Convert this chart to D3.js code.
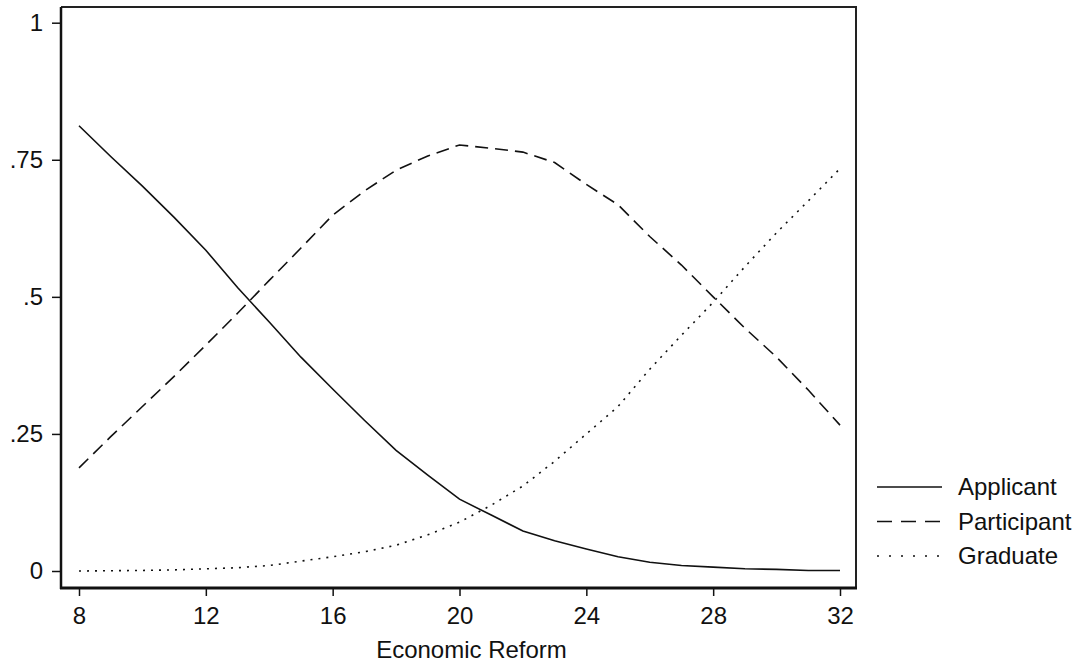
<!DOCTYPE html>
<html>
<head>
<meta charset="utf-8">
<script src="https://cdn.jsdelivr.net/npm/d3@7"></script>
<style>
    body { margin: 0; background: #fff; }
    svg { display: block; }
    text { font-family: Arial, "Liberation Sans", sans-serif; fill: #111; }
</style>
</head>
<body>
<svg id="vis" width="1088" height="664"></svg>
<script>
/**
 * Data
 */
var reform = [8, 9, 10, 11, 12, 13, 14, 15, 16, 17, 18, 19, 20,
              21, 22, 23, 24, 25, 26, 27, 28, 29, 30, 31, 32];
var applicant = [0.812, 0.756, 0.702, 0.645, 0.585, 0.517, 0.454, 0.39, 0.332, 0.275, 0.220, 0.175, 0.131,
                 0.102, 0.073, 0.055, 0.040, 0.026, 0.016, 0.010, 0.007, 0.004, 0.003, 0.001, 0.001];
var participant = [0.188, 0.245, 0.300, 0.355, 0.412, 0.47, 0.530, 0.589, 0.649, 0.693, 0.731, 0.757, 0.777,
                   0.771, 0.764, 0.745, 0.705, 0.668, 0.610, 0.558, 0.500, 0.443, 0.390, 0.330, 0.266];
var graduate = [0.000, 0.0005, 0.001, 0.002, 0.004, 0.006, 0.010, 0.018, 0.026, 0.035, 0.047, 0.066, 0.089,
                0.120, 0.155, 0.200, 0.250, 0.300, 0.368, 0.430, 0.490, 0.555, 0.617, 0.675, 0.734];
var seriesNames = ["Applicant", "Participant", "Graduate"];
var xTicks = [8, 12, 16, 20, 24, 28, 32];
var yTicks = [0, 0.25, 0.5, 0.75, 1];
var yTickLabels = ["0", ".25", ".5", ".75", "1"];
var xTitle = "Economic Reform";

// plot frame in pixels
const FRAME = { left: 61, right: 856, top: 7, bottom: 588 };
const dashes = ["none", "13,7", "2,6"];
const legendDashes = ["none", "15,9", "2,10"];

window.onload = function(){
    draw();
};

function draw(){
    var svg = d3.select("#vis");

    var x = d3.scaleLinear().domain([8, 32]).range([79, 840]);
    var y = d3.scaleLinear().domain([0, 1]).range([571, 22.7]);

    // frame: thin top / right, heavier axes
    svg.append("path")
        .attr("d", `M${FRAME.left},${FRAME.top}H${FRAME.right}V${FRAME.bottom}`)
        .attr("fill", "none")
        .attr("stroke", "#222")
        .attr("stroke-width", 2);

    // y axis
    var yAxis = d3.axisLeft(y).tickValues(yTicks)
        .tickFormat(function(d, i){ return yTickLabels[i]; })
        .tickSize(9).tickPadding(9);
    var gy = svg.append("g").attr("transform", `translate(${FRAME.left},0)`).call(yAxis);
    gy.select(".domain").remove();
    gy.append("line")
        .attr("x1", 0).attr("x2", 0)
        .attr("y1", FRAME.top).attr("y2", FRAME.bottom + 1)
        .attr("stroke", "#111").attr("stroke-width", 2.5);

    // x axis
    var xAxis = d3.axisBottom(x).tickValues(xTicks).tickSize(8).tickPadding(11);
    var gx = svg.append("g").attr("transform", `translate(0,${FRAME.bottom})`).call(xAxis);
    gx.select(".domain").remove();
    gx.append("line")
        .attr("x1", FRAME.left - 1).attr("x2", FRAME.right + 1)
        .attr("y1", 0).attr("y2", 0)
        .attr("stroke", "#111").attr("stroke-width", 3);

    svg.selectAll(".tick line").attr("stroke", "#111").attr("stroke-width", 1.5);
    svg.selectAll(".tick text")
        .style("font-family", "Arial, 'Liberation Sans', sans-serif")
        .style("font-size", "24px")
        .attr("fill", "#111");

    // x title
    svg.append("text")
        .attr("x", (x(8) + x(32)) / 2 + 12)
        .attr("y", 658)
        .style("text-anchor", "middle")
        .style("font-size", "24px")
        .text(xTitle);

    // curves
    var all = [applicant, participant, graduate];
    var line = d3.line()
        .x(function(d, i){ return x(reform[i]); })
        .y(function(d){ return y(d); });

    svg.selectAll("path.curve")
        .data(all)
        .enter()
        .append("path")
        .attr("class", "curve")
        .attr("d", line)
        .attr("fill", "none")
        .attr("stroke", "#111")
        .attr("stroke-width", 1.6)
        .attr("stroke-dasharray", function(d, i){ return dashes[i]; });

    // legend
    var lg = svg.append("g");
    var rows = lg.selectAll("g")
        .data(seriesNames)
        .enter()
        .append("g")
        .attr("transform", function(d, i){ return `translate(877,${487 + i * 34.5})`; });
    rows.append("line")
        .attr("x1", 0).attr("x2", 65)
        .attr("stroke", "#111")
        .attr("stroke-width", 1.6)
        .attr("stroke-dasharray", function(d, i){ return legendDashes[i]; });
    rows.append("text")
        .attr("x", 81)
        .attr("y", 8)
        .style("font-size", "24px")
        .text(function(d){ return d; });
}
</script>
</body>
</html>
